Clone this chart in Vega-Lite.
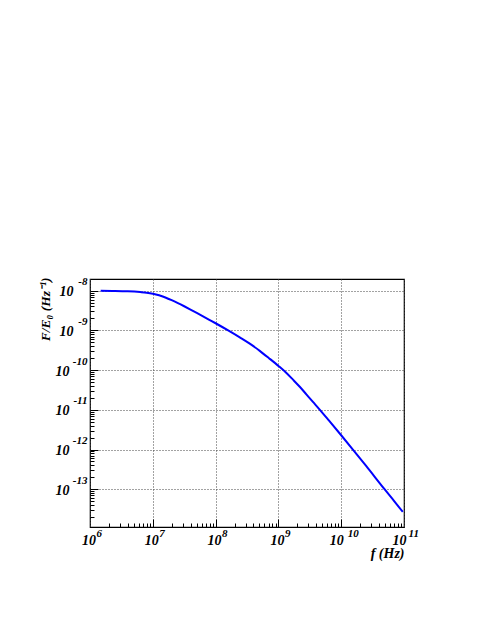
{
  "$schema": "https://vega.github.io/schema/vega-lite/v6.json",
  "width": 314,
  "height": 248,
  "autosize": {"type": "none"},
  "padding": {"left": 90, "top": 279, "right": 81, "bottom": 100},
  "background": "white",
  "config": {
    "view": {"stroke": "#000", "strokeWidth": 1.2},
    "axis": {"domain": false, "labelColor": "#000", "titleColor": "#000", "labelFlush": false, "labelOverlap": false}
  },
  "data": {
    "values": [
      {"f": 1.479e6, "F": 1.0e-8},
      {"f": 2.512e6, "F": 9.886e-9},
      {"f": 3.981e6, "F": 9.66e-9},
      {"f": 6.31e6, "F": 9.226e-9},
      {"f": 7.943e6, "F": 8.913e-9},
      {"f": 1.0e7, "F": 8.414e-9},
      {"f": 1.259e7, "F": 7.674e-9},
      {"f": 1.585e7, "F": 6.761e-9},
      {"f": 1.995e7, "F": 5.794e-9},
      {"f": 2.512e7, "F": 4.875e-9},
      {"f": 3.162e7, "F": 4.055e-9},
      {"f": 3.981e7, "F": 3.35e-9},
      {"f": 5.012e7, "F": 2.754e-9},
      {"f": 6.31e7, "F": 2.259e-9},
      {"f": 7.943e7, "F": 1.849e-9},
      {"f": 1.0e8, "F": 1.514e-9},
      {"f": 1.585e8, "F": 1.0e-9},
      {"f": 2.427e8, "F": 6.683e-10},
      {"f": 3.548e8, "F": 4.571e-10},
      {"f": 5.047e8, "F": 3.055e-10},
      {"f": 7.079e8, "F": 2.0e-10},
      {"f": 1.012e9, "F": 1.259e-10},
      {"f": 1.318e9, "F": 8.71e-11},
      {"f": 1.706e9, "F": 5.754e-11},
      {"f": 2.188e9, "F": 3.802e-11},
      {"f": 2.786e9, "F": 2.455e-11},
      {"f": 3.548e9, "F": 1.585e-11},
      {"f": 4.467e9, "F": 1.047e-11},
      {"f": 6.31e9, "F": 5.495e-12},
      {"f": 1.0e10, "F": 2.291e-12},
      {"f": 1.535e10, "F": 1.0e-12},
      {"f": 2.512e10, "F": 3.802e-13},
      {"f": 4.898e10, "F": 1.0e-13},
      {"f": 7.079e10, "F": 4.898e-14},
      {"f": 9.55e10, "F": 2.692e-14}
    ]
  },
  "layer": [
    {
      "mark": {"type": "line", "color": "#0000ff", "strokeWidth": 2, "interpolate": "monotone"},
      "encoding": {
        "x": {
          "field": "f", "type": "quantitative",
          "scale": {"type": "log", "domain": [1e6, 1e11], "nice": false},
          "axis": {
            "values": [1e6, 1e7, 1e8, 1e9, 1e10, 1e11],
            "labelExpr": "'10'",
            "ticks": false, "grid": true, "gridDash": [1, 2], "gridColor": "#444", "gridWidth": 1,
            "labelFont": "Liberation Serif", "labelFontStyle": "italic", "labelFontWeight": "bold", "labelFontSize": 14,
            "labelPadding": 6, "labelBaseline": "top",
            "labelOffset": {"condition": {"test": "datum.value > 5e9", "value": -5}, "value": -1.5},
            "title": "f (Hz)", "titleX": 314, "titleY": 26, "titleAlign": "right", "titleBaseline": "middle",
            "titleFont": "Liberation Serif", "titleFontStyle": "italic", "titleFontWeight": "bold", "titleFontSize": 14
          }
        },
        "y": {
          "field": "F", "type": "quantitative",
          "scale": {"type": "log", "domain": [1.12e-14, 1.97e-8], "nice": false, "zero": false},
          "axis": {
            "values": [1e-13, 1e-12, 1e-11, 1e-10, 1e-9, 1e-8],
            "labelExpr": "'10'",
            "ticks": false, "grid": true, "gridDash": [1, 2], "gridColor": "#444", "gridWidth": 1,
            "labelFont": "Liberation Serif", "labelFontStyle": "italic", "labelFontWeight": "bold", "labelFontSize": 14,
            "labelPadding": {"condition": {"test": "datum.value < 5e-10", "value": 21}, "value": 17},
            "labelOffset": 1,
            "title": "F/E₀ (Hz⁻¹)", "titleX": -45, "titleY": -2, "titleAngle": -90, "titleAlign": "right", "titleBaseline": "middle",
            "titleFont": "Liberation Serif", "titleFontStyle": "italic", "titleFontWeight": "bold", "titleFontSize": 13.5
          }
        }
      }
    },
    {
      "mark": {"type": "line", "opacity": 0},
      "encoding": {
        "x": {
          "field": "f", "type": "quantitative",
          "scale": {"type": "log", "domain": [1e6, 1e11], "nice": false},
          "axis": {
            "orient": "bottom",
            "values": [1e6, 1e7, 1e8, 1e9, 1e10, 1e11],
            "labelExpr": "'' + round(log(datum.value)/LN10)",
            "ticks": false, "grid": false,
            "labelFont": "Liberation Serif", "labelFontStyle": "italic", "labelFontWeight": "bold", "labelFontSize": 11,
            "labelAlign": "left", "labelBaseline": "top", "labelPadding": 0,
            "labelOffset": {"condition": {"test": "datum.value > 5e10", "value": 4}, "value": 6},
            "title": null
          }
        },
        "y": {
          "field": "F", "type": "quantitative",
          "scale": {"type": "log", "domain": [1.12e-14, 1.97e-8], "nice": false, "zero": false},
          "axis": {
            "orient": "left",
            "values": [1e-13, 1e-12, 1e-11, 1e-10, 1e-9, 1e-8],
            "labelExpr": "'' + round(log(datum.value)/LN10)",
            "ticks": false, "grid": false,
            "labelFont": "Liberation Serif", "labelFontStyle": "italic", "labelFontWeight": "bold", "labelFontSize": 11,
            "labelAlign": "right", "labelPadding": 3, "labelOffset": -9,
            "title": null
          }
        }
      }
    },
    {
      "mark": {"type": "line", "opacity": 0},
      "encoding": {
        "x": {
          "field": "f", "type": "quantitative",
          "scale": {"type": "log", "domain": [1e6, 1e11], "nice": false},
          "axis": {
            "orient": "bottom",
            "values": [2e6,3e6,4e6,5e6,6e6,7e6,8e6,9e6,1e7,2e7,3e7,4e7,5e7,6e7,7e7,8e7,9e7,1e8,2e8,3e8,4e8,5e8,6e8,7e8,8e8,9e8,1e9,2e9,3e9,4e9,5e9,6e9,7e9,8e9,9e9,1e10,2e10,3e10,4e10,5e10,6e10,7e10,8e10,9e10],
            "labels": false, "grid": false, "ticks": true, "tickColor": "#000",
            "tickSize": {"condition": {"test": "abs(log(datum.value)/LN10 - round(log(datum.value)/LN10)) < 0.01", "value": -8}, "value": -4},
            "title": null
          }
        },
        "y": {
          "field": "F", "type": "quantitative",
          "scale": {"type": "log", "domain": [1.12e-14, 1.97e-8], "nice": false, "zero": false},
          "axis": {
            "orient": "left",
            "values": [2e-14,3e-14,4e-14,5e-14,6e-14,7e-14,8e-14,9e-14,1e-13,2e-13,3e-13,4e-13,5e-13,6e-13,7e-13,8e-13,9e-13,1e-12,2e-12,3e-12,4e-12,5e-12,6e-12,7e-12,8e-12,9e-12,1e-11,2e-11,3e-11,4e-11,5e-11,6e-11,7e-11,8e-11,9e-11,1e-10,2e-10,3e-10,4e-10,5e-10,6e-10,7e-10,8e-10,9e-10,1e-9,2e-9,3e-9,4e-9,5e-9,6e-9,7e-9,8e-9,9e-9,1e-8],
            "labels": false, "grid": false, "ticks": true, "tickColor": "#000",
            "tickSize": {"condition": {"test": "abs(log(datum.value)/LN10 - round(log(datum.value)/LN10)) < 0.01", "value": -8}, "value": -4},
            "title": null
          }
        }
      }
    }
  ],
  "resolve": {"axis": {"x": "independent", "y": "independent"}}
}
